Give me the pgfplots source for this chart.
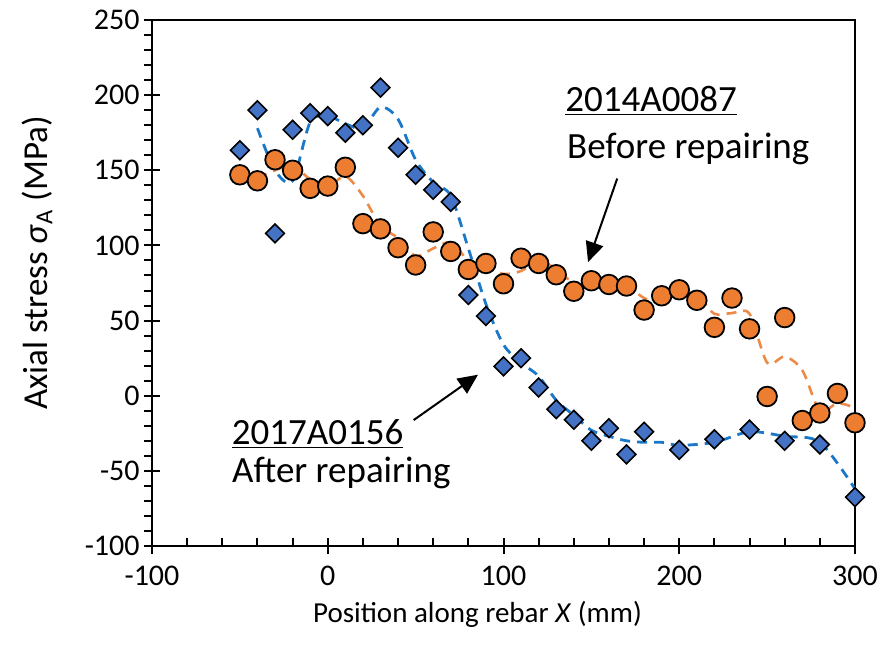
\documentclass[border=0pt]{standalone}
\usepackage{fontspec}
\setmainfont{Carlito}
\usepackage{pgfplots}
\pgfplotsset{compat=1.18}
\usetikzlibrary{arrows.meta}
\definecolor{dblue}{HTML}{4472C4}
\definecolor{lblue}{HTML}{1B78C8}
\definecolor{dorange}{HTML}{ED7D31}
\definecolor{lorange}{HTML}{EE8A48}

\pgfplotstableread{
x y
-50 163.3
-40 190
-30 108
-20 177
-10 188
0 186
10 175
20 180
30 205
40 165
50 147
60 137
70 129
80 67
90 53
100 19.5
110 25
120 5.5
130 -9
140 -16
150 -30
160 -21.6
170 -39
180 -24
200 -36
220 -29
240 -22.5
260 -30
280 -32.5
300 -67.5
}\after

\pgfplotstableread{
x y
-50 147
-40 143
-30 157
-20 150
-10 138
0 139.5
10 152
20 114.5
30 111
40 98.5
50 87
60 109
70 96
80 84
90 88
100 74.5
110 91.5
120 88
130 80.5
140 69.5
150 76.5
160 74
170 73
180 57
190 66.5
200 70.5
210 63.5
220 45.5
230 65
240 44.5
250 -0.5
260 52
270 -16.5
280 -11.5
290 1.5
300 -18
}\before

\pgfplotstableread{
x y
-40 178
-30 150
-20 143
-10 182
0 186
10 181
20 178
30 192
40 184
50 157
60 142
70 133
80 98
90 61
100 34
110 22
120 13
130 -3
140 -13
150 -23
160 -27
170 -30
180 -31
190 -31
200 -33
220 -31
240 -24
260 -27
280 -31
300 -62
}\aftertrend

\pgfplotstableread{
x y
-40 145
-30 150
-20 153
-10 144
0 139
10 146
20 133
30 113
40 105
50 93
60 98
70 102
80 90
90 86
100 81
110 83
120 90
130 84
140 75
150 73
160 75
170 73.5
180 65
190 62
200 69
210 67
220 54.5
230 55
240 54.5
250 22
260 26
270 17
280 -10
290 -5
300 -8
}\beforetrend

\begin{document}
\begin{tikzpicture}
\useasboundingbox (-76pt,-53.5pt) rectangle (364.5pt,273pt);
\begin{axis}[
  at={(0,0)}, anchor=south west,
  scale only axis, width=351.5pt, height=263pt,
  xmin=-100, xmax=300, ymin=-100, ymax=250,
  xtick={-100,0,...,300}, ytick={-100,-50,...,250},
  minor x tick num=4, minor y tick num=4,
  tick align=center,
  major tick length=8pt, minor tick length=4pt,
  minor x tick style={yshift=2pt}, minor y tick style={xshift=-2pt},
  xtick pos=bottom, ytick pos=left,
  axis line style={line width=1pt},
  every tick/.style={black, line width=1pt},
  /pgf/number format/assume math mode=true,
  tick label style={font=\fontsize{15}{18}\selectfont, inner sep=0pt},
  yticklabel style={xshift=-2pt},
  xticklabel style={yshift=-6pt},
  xlabel={Position along rebar \textit{X} (mm)},
  xlabel style={at={(axis description cs:0.463,-0.1445)}, anchor=base, font=\fontsize{14.5}{17}\selectfont, inner sep=0pt},
  ylabel={Axial stress \textit{σ}\textsubscript{A} (MPa)},
  ylabel style={at={(axis description cs:-0.1636,0.538)}, anchor=center, font=\fontsize{17.5}{20}\selectfont, inner sep=0pt},
  clip=false,
]
\addplot[lblue, line width=1.4pt, dash pattern=on 5pt off 3.5pt, smooth, tension=0.5] table {\aftertrend};
\addplot[lorange, line width=1.3pt, dash pattern=on 5pt off 3.5pt, smooth, tension=0.5] table {\beforetrend};
\addplot[only marks, mark=*, mark size=4.9pt, mark options={fill=dorange, draw=black, line width=0.9pt}] table {\before};
\addplot[only marks, mark=square*, mark size=3.3pt, mark options={rotate=45, fill=dblue, draw=black, line width=0.8pt}] table {\after};

\node[anchor=base west, inner sep=0pt, font=\fontsize{18.5}{22}\selectfont] at (axis cs:135,189) {\underline{2014A0087}};
\node[anchor=base west, inner sep=0pt, font=\fontsize{18.5}{22}\selectfont] at (axis cs:136,158) {Before repairing};
\node[anchor=base west, inner sep=0pt, font=\fontsize{18.5}{22}\selectfont] at (axis cs:-54.8,-32.2) {\underline{2017A0156}};
\node[anchor=base west, inner sep=0pt, font=\fontsize{18.5}{22}\selectfont] at (axis cs:-54.6,-57.8) {After repairing};
\draw[-{Triangle[length=10pt,width=9pt]}, line width=1pt] (axis cs:164.7,144.5) -- (axis cs:148.1,88.9);
\draw[-{Triangle[length=10pt,width=9pt]}, line width=1pt] (axis cs:48.9,-16.2) -- (axis cs:85.5,14);
\end{axis}
\end{tikzpicture}
\end{document}
